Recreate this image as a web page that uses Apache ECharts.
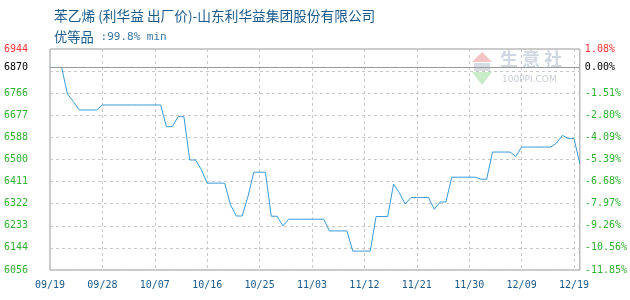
<!DOCTYPE html>
<html><head><meta charset="utf-8">
<script src="https://cdn.jsdelivr.net/npm/echarts@6/dist/echarts.min.js"></script>
<style>html,body{margin:0;padding:0;background:#fff}#c{width:630px;height:300px}</style>
</head><body><div id="c"></div>
<script>
// ---- data ----
const titleText = '苯乙烯 (利华益 出厂价)-山东利华益集团股份有限公司';
const gradeText = '优等品';
const specText = ':99.8% min';
const startMonth = 9, startDay = 19;
const prices = [
  6870,6870,6870,6763,6733,6699,6699,6699,6699,6719,
  6719,6719,6719,6719,6719,6719,6719,6719,6719,6719,
  6632,6632,6672,6672,6498,6498,6459,6405,6405,6405,
  6405,6318,6273,6273,6351,6449,6449,6449,6272,6272,
  6233,6260,6260,6260,6260,6260,6260,6260,6213,6213,
  6213,6213,6132,6132,6132,6132,6271,6271,6271,6401,
  6366,6321,6347,6347,6347,6347,6300,6329,6329,6429,
  6429,6429,6429,6429,6421,6421,6530,6530,6530,6530,
  6512,6550,6550,6550,6550,6550,6550,6566,6597,6584,
  6584,6483
];
const basePrice = 6870;
const yMin = 6056, yMax = 6944, yStep = 88.8;
const leftTickLabels  = ['6944','','6766','6677','6588','6500','6411','6322','6233','6144','6056'];
const rightTickLabels = ['1.08%','','-1.51%','-2.80%','-4.09%','-5.39%','-6.68%','-7.97%','-9.26%','-10.56%','-11.85%'];
const baseLeftLabel = '6870', baseRightLabel = '0.00%';
const xTickLabels = ['09/19','09/28','10/07','10/16','10/25','11/03','11/12','11/21','11/30','12/09','12/19'];
const xTickEvery = 9;

// categories (one per day)
const dates = [];
const d0 = Date.UTC(2023, startMonth - 1, startDay);
for (let i = 0; i < prices.length; i++) {
  const d = new Date(d0 + i * 86400000);
  dates.push(String(d.getUTCMonth() + 1).padStart(2, '0') + '/' + String(d.getUTCDate()).padStart(2, '0'));
}

const mono = 'DejaVu Sans Mono';
const green = '#2fb12f', red = '#ff3333';
const tickIdx = v => Math.round((yMax - v) / yStep);

const chart = echarts.init(document.getElementById('c'), null, {renderer: 'canvas'});
chart.setOption({
  animation: false,
  backgroundColor: '#fff',
  title: [
    {text: titleText, left: 49, top: 4, textStyle: {fontSize: 13.7, fontWeight: 'normal', color: '#1a5a8a', fontFamily: 'Noto Sans CJK SC'}},
    {text: '{a|' + gradeText + '}{b| ' + specText + '}', left: 49, top: 25,
      textStyle: {fontWeight: 'normal', rich: {
        a: {fontSize: 13.3, fontWeight: 'normal', color: '#1a5a8a', fontFamily: 'Noto Sans CJK SC'},
        b: {fontSize: 11, fontWeight: 'normal', color: '#3a78a8', fontFamily: mono}
      }}}
  ],
  grid: {left: 50, right: 49, top: 49, bottom: 30, show: true, borderColor: '#999', borderWidth: 1, backgroundColor: 'transparent'},
  graphic: [
    {type: 'polygon', z: 0, shape: {points: [[482,52],[472,62],[492,62]]}, style: {fill: '#f4c4c4'}},
    {type: 'rect', z: 0, shape: {x: 474, y: 63, width: 16, height: 8}, style: {fill: '#d8dde4'}},
    {type: 'polygon', z: 0, shape: {points: [[472,72],[492,72],[482,85]]}, style: {fill: '#c8ecc8'}},
    {type: 'text', z: 0, left: 500, top: 50, style: {text: '生 意 社', fontSize: 18, fill: '#d0d7e0', fontFamily: 'Noto Sans CJK SC', fontWeight: 'bold'}},
    {type: 'text', z: 0, left: 502, top: 75, style: {text: '100PPI.COM', fontSize: 9, fill: '#c8ccd4', fontFamily: 'DejaVu Sans'}}
  ],
  xAxis: {
    type: 'category', data: dates, boundaryGap: false,
    axisLine: {show: false}, axisTick: {show: false},
    axisLabel: {
      interval: (i) => i % xTickEvery === 0,
      formatter: (v, i) => xTickLabels[Math.round(i / xTickEvery)] || '',
      color: '#1a5a8a', fontFamily: mono, fontSize: 10, margin: 10
    },
    splitLine: {show: true, interval: (i) => i % xTickEvery === 0 && i > 0, lineStyle: {color: '#c8c8c8', type: [3, 3]}}
  },
  yAxis: [
    {
      type: 'value', position: 'left', min: yMin, max: yMax, interval: yStep,
      axisLine: {show: false}, axisTick: {show: false},
      splitLine: {show: true, lineStyle: {color: '#c8c8c8', type: [3, 3]}},
      axisLabel: {
        margin: 22, fontFamily: mono, fontSize: 10,
        formatter: (v) => leftTickLabels[tickIdx(v)] || '',
        color: (v) => tickIdx(v) === 0 ? red : green
      }
    },
    {
      type: 'value', position: 'right', min: yMin, max: yMax, interval: yStep,
      axisLine: {show: false}, axisTick: {show: false}, splitLine: {show: false},
      axisLabel: {
        margin: 5, fontFamily: mono, fontSize: 10,
        formatter: (v) => rightTickLabels[tickIdx(v)] || '',
        color: (v) => tickIdx(v) === 0 ? red : green
      }
    }
  ],
  series: [{
    type: 'line', data: prices, yAxisIndex: 0, symbol: 'none', smooth: false,
    lineStyle: {color: '#3a9ad9', width: 1}, itemStyle: {color: '#3a9ad9'}, z: 3,
    markLine: {
      silent: true, symbol: 'none', animation: false,
      lineStyle: {color: '#999', type: 'solid', width: 1},
      data: [
        {yAxis: basePrice, label: {show: true, position: 'start', distance: 22, formatter: baseLeftLabel, color: '#000', fontFamily: mono, fontSize: 10}},
        {yAxis: basePrice, label: {show: true, position: 'end', distance: 5, formatter: baseRightLabel, color: '#000', fontFamily: mono, fontSize: 10}}
      ]
    }
  }]
});
</script>
</body></html>
